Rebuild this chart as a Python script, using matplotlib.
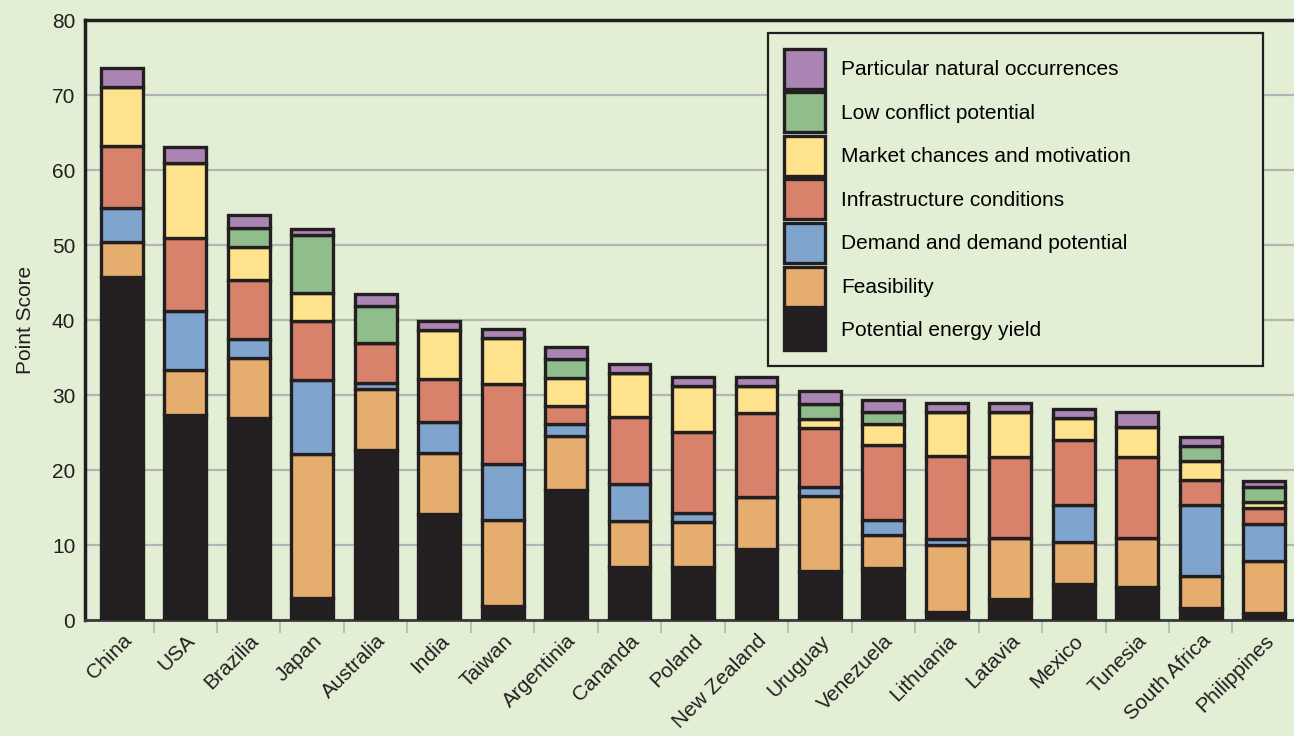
import matplotlib.pyplot as plt
import numpy as np

plt.rcParams['font.family'] = ['Liberation Sans', 'DejaVu Sans']

countries = ['China', 'USA', 'Brazilia', 'Japan', 'Australia', 'India', 'Taiwan',
             'Argentinia', 'Cananda', 'Poland', 'New Zealand', 'Uruguay', 'Venezuela',
             'Lithuania', 'Latavia', 'Mexico', 'Tunesia', 'South Africa', 'Philippines']

# segment heights, bottom to top
energy_yield = [45.7, 27.3, 27.0, 3.0, 22.7, 14.2, 1.9, 17.3, 7.1, 7.1, 9.5, 6.5, 7.0, 1.1, 2.8, 4.8, 4.4, 1.6, 1.0]
feasibility  = [4.7, 6.0, 8.0, 19.1, 8.1, 8.1, 11.4, 7.2, 6.1, 6.0, 6.9, 10.0, 4.3, 8.9, 8.1, 5.6, 6.5, 4.3, 6.9]
demand       = [4.6, 7.9, 2.5, 9.9, 0.8, 4.1, 7.5, 1.6, 4.9, 1.2, 0.0, 1.3, 2.1, 0.8, 0.0, 5.0, 0.0, 9.5, 4.9]
infra        = [8.2, 9.8, 7.9, 7.9, 5.3, 5.7, 10.7, 2.5, 9.0, 10.8, 11.2, 7.8, 9.9, 11.1, 10.8, 8.6, 10.8, 3.3, 2.1]
market       = [7.9, 9.9, 4.4, 3.7, 0.0, 6.6, 6.1, 3.7, 5.8, 6.1, 3.6, 1.2, 2.9, 5.8, 6.1, 2.9, 4.1, 2.5, 0.8]
low_conflict = [0.0, 0.0, 2.5, 7.8, 5.0, 0.0, 0.0, 2.5, 0.0, 0.0, 0.0, 2.0, 1.6, 0.0, 0.0, 0.0, 0.0, 2.0, 2.1]
natural      = [2.5, 2.2, 1.7, 0.8, 1.6, 1.2, 1.2, 1.6, 1.2, 1.2, 1.2, 1.7, 1.6, 1.2, 1.2, 1.2, 2.0, 1.2, 0.7]

series = [energy_yield, feasibility, demand, infra, market, low_conflict, natural]
labels = ['Potential energy yield', 'Feasibility', 'Demand and demand potential',
          'Infrastructure conditions', 'Market chances and motivation',
          'Low conflict potential', 'Particular natural occurrences']
colors = ['#231f20', '#e6ae6e', '#7fa5cf', '#d9826b', '#fee28c', '#8fbd8b', '#ab86b5']

bg = '#e2efd5'
fig = plt.figure(figsize=(12.94, 7.36), dpi=100, facecolor=bg)
ax = fig.add_axes([0.0657, 0.1576, 0.9343, 0.8152], facecolor=bg)

x = np.arange(len(countries))
bottom = np.zeros(len(countries))
handles = []
for vals, lab, col in zip(series, labels, colors):
    vals = np.array(vals)
    b = ax.bar(x, vals, 0.66, bottom=bottom, color=col, edgecolor='#231f20',
               linewidth=2.4, label=lab, zorder=3)
    handles.append(b)
    bottom += vals

ax.set_xlim(-0.58, 18.47)
ax.set_ylim(0, 80)
ax.set_yticks(range(0, 81, 10))
ax.yaxis.grid(True, color='#b4b4b4', linewidth=1.6, zorder=0)
ax.tick_params(axis='y', length=0, labelsize=15, colors='#231f20', pad=7)

# ticks between bars, labels under bars
ax.set_xticks(np.arange(0.5, 18, 1))
ax.set_xticklabels([])
ax.tick_params(axis='x', which='major', length=9, width=1.2, color='#b4b4b4')
ax.set_xticks(x, minor=True)
ax.set_xticklabels(countries, minor=True, rotation=45, ha='right',
                   rotation_mode='anchor', fontsize=15, color='#231f20')
ax.tick_params(axis='x', which='minor', length=0, pad=8)

for s in ['left', 'top']:
    ax.spines[s].set_linewidth(2.5)
    ax.spines[s].set_color('#231f20')
ax.spines['bottom'].set_linewidth(2)
ax.spines['bottom'].set_color('#3a3a3a')
ax.spines['right'].set_visible(False)

ax.set_ylabel('Point Score', fontsize=15, color='#231f20', labelpad=12)

leg = fig.legend(handles[::-1], labels[::-1], loc='upper left',
                 bbox_to_anchor=(768 / 1294, 1 - 33 / 736 - 0.01, 495 / 1294, 0.01),
                 mode='expand', fontsize=15, frameon=True,
                 fancybox=False, edgecolor='#231f20', facecolor=bg,
                 handlelength=2.0, handleheight=2.58, labelspacing=0.17,
                 handletextpad=0.75, borderpad=0.75, borderaxespad=0)
leg.get_frame().set_linewidth(1.6)
leg.get_frame().set_alpha(1)

fig.savefig('out.png', dpi=100, facecolor=bg)
